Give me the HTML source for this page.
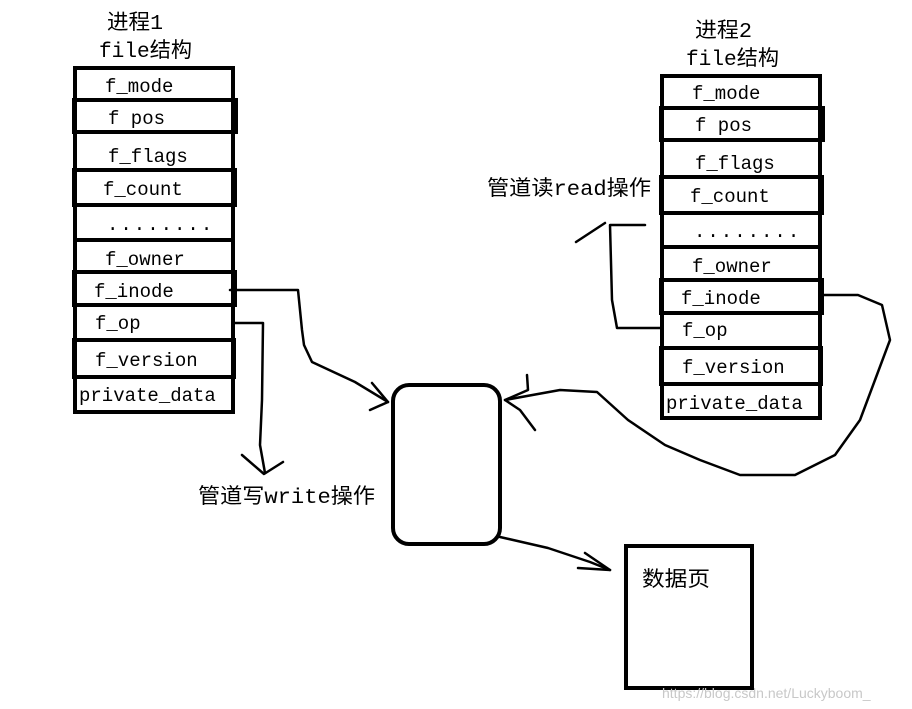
<!DOCTYPE html>
<html><head><meta charset="utf-8"><style>
html,body{margin:0;padding:0;background:#fff;}
svg{display:block;}
text{font-family:"Liberation Mono","Noto Sans CJK SC",monospace;fill:#000;}
.c{font-family:"Liberation Sans","Noto Sans CJK SC",sans-serif;}
</style></head><body>
<svg width="912" height="709" viewBox="0 0 912 709" xmlns="http://www.w3.org/2000/svg">
<g fill="none" stroke="#000" stroke-width="4">
  <rect x="75" y="68" width="158" height="344"/>
  <rect x="74" y="100" width="162" height="32"/>
  <rect x="74" y="170" width="161" height="35"/>
  <line x1="75" y1="240" x2="233" y2="240"/>
  <rect x="74" y="272" width="161" height="33"/>
  <rect x="74" y="340" width="160" height="37"/>
  <rect x="662" y="76" width="158" height="342"/>
  <rect x="661" y="108" width="162" height="32"/>
  <rect x="661" y="177" width="161" height="36"/>
  <line x1="662" y1="247" x2="820" y2="247"/>
  <rect x="661" y="280" width="161" height="33"/>
  <rect x="661" y="348" width="160" height="36"/>
  <rect x="393" y="385" width="107" height="159" rx="16"/>
  <rect x="626" y="546" width="126" height="142"/>
</g>
<g fill="none" stroke="#000" stroke-width="2.5" stroke-linejoin="round" stroke-linecap="round">
  <path d="M230 290 L298 290 L302 330 L304 345 L312 362 L355 382 L388 402"/>
  <path d="M372 383 L388 402 L370 410"/>
  <path d="M234 323 L263 323 L262 400 L260 445 L265 473"/>
  <path d="M242 455 L264 474 L283 462"/>
  <path d="M822 295 L858 295 L882 305 L890 340 L875 380 L860 420 L835 455 L795 475 L740 475 L700 460 L665 445 L628 420 L597 392 L560 390 L505 400"/>
  <path d="M527 375 L528 390 L505 400 L520 410 L535 430"/>
  <path d="M661 328 L617 328 L612 300 L610 225 L645 225"/>
  <path d="M605 223 L576 242"/>
  <path d="M500 537 L548 548 L590 562 L610 570"/>
  <path d="M585 553 L610 570 L578 568"/>
</g>
<g font-size="19">
  <text x="105" y="92">f_mode</text>
  <text x="108" y="124">f pos</text>
  <text x="108" y="162">f_flags</text>
  <text x="103" y="195">f_count</text>
  <text x="107" y="230" letter-spacing="2">........</text>
  <text x="105" y="265">f_owner</text>
  <text x="94" y="297">f_inode</text>
  <text x="95" y="329">f_op</text>
  <text x="95" y="366">f_version</text>
  <text x="79" y="401">private_data</text>

  <text x="692" y="99">f_mode</text>
  <text x="695" y="131">f pos</text>
  <text x="695" y="169">f_flags</text>
  <text x="690" y="202">f_count</text>
  <text x="694" y="237" letter-spacing="2">........</text>
  <text x="692" y="272">f_owner</text>
  <text x="681" y="304">f_inode</text>
  <text x="682" y="336">f_op</text>
  <text x="682" y="373">f_version</text>
  <text x="666" y="409">private_data</text>
</g>
<g font-size="21">
  <text x="107" y="29" textLength="56" lengthAdjust="spacingAndGlyphs">进程1</text>
  <text x="99" y="57" textLength="93" lengthAdjust="spacingAndGlyphs">file结构</text>
  <text x="695" y="37" textLength="57" lengthAdjust="spacingAndGlyphs">进程2</text>
  <text x="686" y="65" textLength="93" lengthAdjust="spacingAndGlyphs">file结构</text>
  <text x="487" y="195" textLength="164" lengthAdjust="spacingAndGlyphs">管道读read操作</text>
  <text x="198" y="503" textLength="177" lengthAdjust="spacingAndGlyphs">管道写write操作</text>
  <text x="642" y="586" textLength="68" lengthAdjust="spacingAndGlyphs">数据页</text>
</g>
<text class="c" x="662" y="698" font-size="14" style="fill:#c8c8c8">https://blog.csdn.net/Luckyboom_</text>
</svg>
</body></html>
